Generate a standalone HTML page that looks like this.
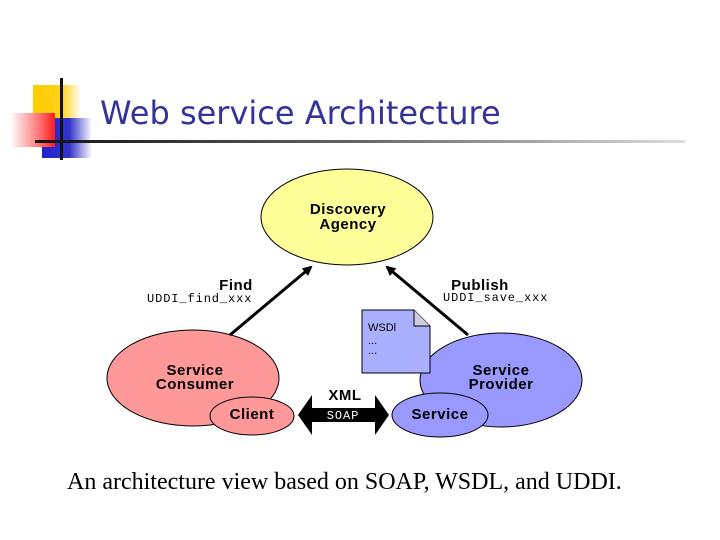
<!DOCTYPE html>
<html><head><style>
body{margin:0;width:720px;height:540px;background:#fff;position:relative;overflow:hidden;font-family:"Liberation Sans",sans-serif}
.a{position:absolute}
</style></head><body>
<div class="a" style="left:33px;top:85px;width:48px;height:34px;background:linear-gradient(90deg,#ffcc00,#ffd21a 60%,#fff)"></div>
<div class="a" style="left:42px;top:118px;width:50px;height:40px;background:linear-gradient(90deg,#2222cc,#3333cc 55%,#fff)"></div>
<div class="a" style="left:10px;top:113px;width:45px;height:34px;background:linear-gradient(90deg,#fff,#ff8080 60%,#ff1a1a)"></div>
<div class="a" style="left:60px;top:78px;width:3px;height:82px;background:#111"></div>
<div class="a" style="left:35px;top:140px;width:650px;height:3px;background:linear-gradient(90deg,#111,#666 50%,#ddd)"></div>
<div class="a" style="left:100px;top:94px;font-family:'DejaVu Sans',sans-serif;font-size:32px;color:#333399;letter-spacing:0px">Web service Architecture</div>
<svg class="a" style="left:0;top:0" width="720" height="540">
<defs><marker id="m" markerWidth="10" markerHeight="10" refX="8" refY="5" orient="auto" markerUnits="userSpaceOnUse"><path d="M0,0 L10,5 L0,10 z" fill="#000"/></marker></defs>
<g stroke="#000" stroke-width="1">
<ellipse cx="347" cy="217" rx="86" ry="48" fill="#ffff99"/>
<ellipse cx="193" cy="378" rx="86" ry="48" fill="#ff9999"/>
<ellipse cx="252" cy="416" rx="42" ry="19" fill="#ff9999"/>
<ellipse cx="501" cy="380" rx="81" ry="47" fill="#9999ff"/>
<ellipse cx="440" cy="415" rx="48" ry="22" fill="#9999ff"/>
<path d="M362,310 L414,310 L430,326 L430,373 L362,373 Z" fill="#aab0ff"/>
<path d="M414,310 L414,326 L430,326" fill="#ccd" />
</g>
<line x1="230" y1="335" x2="311" y2="267" stroke="#000" stroke-width="3" marker-end="url(#m)"/>
<line x1="468" y1="335" x2="387" y2="267" stroke="#000" stroke-width="3" marker-end="url(#m)"/>
<path d="M298,415 L312,395 L312,408 L375,408 L375,395 L389,415 L375,435 L375,422 L312,422 L312,435 Z" fill="#000"/>
<g font-family="Liberation Sans,sans-serif" font-weight="bold" font-size="15" letter-spacing="0.5" text-anchor="middle" fill="#000">
<text x="348" y="214">Discovery</text><text x="348" y="229">Agency</text>
<text x="195" y="375">Service</text><text x="195" y="389">Consumer</text>
<text x="252" y="419">Client</text>
<text x="501" y="375">Service</text><text x="501" y="389">Provider</text>
<text x="440" y="419">Service</text>
<text x="236" y="290">Find</text><text x="480" y="290">Publish</text>
<text x="345" y="400">XML</text>
</g>
<g font-family="Liberation Mono,monospace" font-size="12" letter-spacing="0.9" fill="#000">
<text x="147" y="302">UDDI_find_xxx</text><text x="443" y="301">UDDI_save_xxx</text>
<text x="343" y="419" fill="#fff" text-anchor="middle">SOAP</text>
</g>
<g font-family="Liberation Sans,sans-serif" font-size="11" fill="#000">
<text x="368" y="331">WSDl</text><text x="368" y="344">...</text><text x="368" y="354">...</text>
</g>
</svg>
<div class="a" style="left:67px;top:469px;font-family:'Liberation Serif',serif;font-size:24px;color:#000">An architecture view based on SOAP, WSDL, and UDDI.</div>
</body></html>
